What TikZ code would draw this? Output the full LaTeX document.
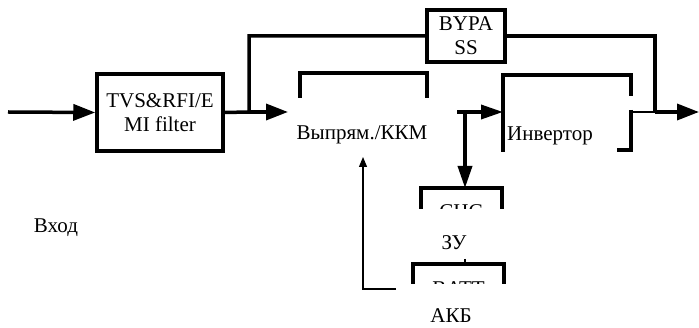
\documentclass[tikz,border=0pt]{standalone}
\usepackage{fontspec}
\setmainfont{Liberation Serif}
\usetikzlibrary{arrows.meta,positioning}
\tikzset{
  wire/.style={line width=3.5pt},
  fine/.style={line width=1.2pt},
  bighead/.style={-{Triangle[length=22pt,width=16pt]}},
  midhead/.style={-{Triangle[length=22pt,width=14pt]}},
  smallhead/.style={-{Triangle[length=10pt,width=8pt]}},
  lbl/.style={font=\fontsize{21}{24}\selectfont, inner sep=0pt},
  blk/.style={draw, line width=3.5pt, align=center, lbl},
}

\begin{document}
\begin{tikzpicture}[x=1pt,y=-1pt]
\useasboundingbox (0,0) rectangle (699,328);
\node[blk, minimum width=126pt, minimum height=77pt] (tvs) at (160,112.5) {TVS\&RFI/E\\MI filter};
\node[blk, minimum width=78pt, minimum height=52pt] (bypass) at (466,36) {BYPA\\SS};
\coordinate (in) at (8,112);
\coordinate (split) at (249,112);
\coordinate (rectin) at (288,112);
\coordinate (rectout) at (457,112);
\coordinate (tap) at (465,112);
\coordinate (invin) at (503,112);
\coordinate (invout) at (631,112);
\coordinate (join) at (655,112);
\coordinate (out) at (699,112);
\draw[wire, bighead] (in) -- (tvs.west);
\draw[wire] (tvs.east) -- (split) |- (bypass.west);
\draw[wire, bighead] (split) -- (rectin);
\draw[wire] (bypass.east) -| (join);
\draw[wire, bighead] (join) -- (out);
\draw[wire] (300,98) |- (427,73) -- (427,98);
\node[lbl, anchor=base] (rect) at (362,140) {Выпрям./ККМ};
\draw[wire, midhead] (rectout) -- (invin);
\draw[wire] (503,152) |- (631,75) -- (631,96);
\draw[wire] (631,110) -- (631,150) -- (617,150);
\node[lbl, anchor=base west] (inv) at (507,141) {Инвертор};
\draw[fine] (invout) -- (join);
\begin{scope}
  \clip (400,170) rectangle (520,209);
  \node[blk, minimum width=81pt, minimum height=48pt] (chg) at (461.5,212) {CHG};
\end{scope}
\draw[wire, midhead] (tap) -- (465,188);
\node[lbl, anchor=base] (zu) at (454,250) {ЗУ};
\draw[fine] (465,259) -- (465,265);
\begin{scope}
  \clip (400,250) rectangle (520,284);
  \node[blk, minimum width=91pt, minimum height=50pt] (batt) at (458.5,289) {BATT};
\end{scope}
\node[lbl, anchor=base] (akb) at (451,323) {АКБ};
\coordinate (fb) at (396,289);
\draw[fine, smallhead] (fb) -| (363,157);
\node[lbl, anchor=base] (vhod) at (56,233) {Вход};
\end{tikzpicture}
\end{document}
